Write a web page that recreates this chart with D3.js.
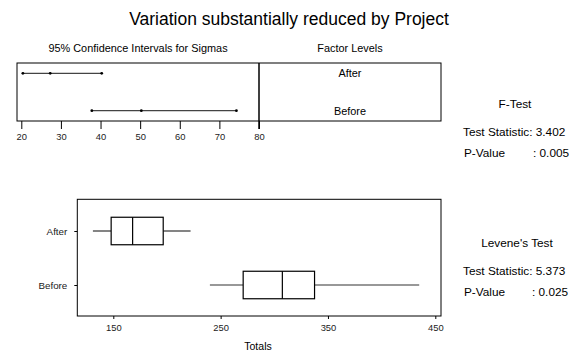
<!DOCTYPE html>
<html>
<head>
<meta charset="utf-8">
<script src="https://cdn.jsdelivr.net/npm/d3@7"></script>
<style>
  body { margin: 0; background: #fff; }
  svg { font-family: "Liberation Sans", Arial, sans-serif; }
</style>
</head>
<body>
<div id="chart"></div>
<script>
// two groups, compared before/after the project
const groups = ['After', 'Before'];

// 95% CI for sigma: lower, estimate, upper
const sigmaLow = [20.4, 37.8];
const sigmaEst = [27.3, 50.3];
const sigmaHigh = [40.3, 74.3];

const sigmaTicks = [20, 30, 40, 50, 60, 70, 80];

// boxplot stats: whisker low, q1, median, q3, whisker high
const whiskLow = [131, 240];
const q1 = [148, 271];
const median = [168, 307.5];
const q3 = [196.5, 337.5];
const whiskHigh = [222, 435];

const totalTicks = [150, 250, 350, 450];

const fTest = ['Test Statistic: 3.402', 'P-Value', ': 0.005'];
const leveneTest = ['Test Statistic: 5.373', 'P-Value', ': 0.025'];

const W = 570, H = 352;
const svg = d3.select('#chart').append('svg')
  .attr('width', W).attr('height', H);

const FONT = '"Liberation Sans", Arial, sans-serif';

svg.append('text')
  .attr('x', 289).attr('y', 25)
  .attr('text-anchor', 'middle')
  .attr('font-size', 17.5)
  .text('Variation substantially reduced by Project');

// ---- top panel: confidence intervals
const ciBox = { left: 17, right: 259, top: 63, bottom: 121 };
const xs = d3.scaleLinear().domain([20, 80]).range([21.3, 259]);
const ys = d3.scalePoint().domain(groups).range([73.3, 110.7]);

svg.append('text')
  .attr('x', 138).attr('y', 52)
  .attr('text-anchor', 'middle').attr('font-size', 10.9)
  .text('95% Confidence Intervals for Sigmas');
svg.append('text')
  .attr('x', 350).attr('y', 52)
  .attr('text-anchor', 'middle').attr('font-size', 10.9)
  .text('Factor Levels');

svg.append('rect')
  .attr('x', ciBox.left).attr('y', ciBox.top)
  .attr('width', 441 - ciBox.left).attr('height', ciBox.bottom - ciBox.top)
  .attr('fill', 'none').attr('stroke', '#000').attr('stroke-width', 1);
svg.append('line')
  .attr('x1', ciBox.right).attr('x2', ciBox.right)
  .attr('y1', ciBox.top).attr('y2', ciBox.bottom + 8)
  .attr('stroke', '#000').attr('stroke-width', 1.5);

svg.append('g')
  .attr('transform', `translate(0,${ciBox.bottom})`)
  .call(d3.axisBottom(xs).tickValues(sigmaTicks).tickSize(8).tickPadding(4))
  .call(g => g.select('.domain').remove())
  .call(g => g.selectAll('.tick line').attr('stroke', '#000'))
  .call(g => g.selectAll('.tick text').attr('font-size', 9.4).attr('fill', '#222')
    .attr('font-family', FONT));

const ci = svg.append('g');
groups.forEach((gname, i) => {
  const y = ys(gname);
  ci.append('line')
    .attr('x1', xs(sigmaLow[i])).attr('x2', xs(sigmaHigh[i]))
    .attr('y1', y).attr('y2', y)
    .attr('stroke', '#444').attr('stroke-width', 1.3);
  [sigmaLow[i], sigmaEst[i], sigmaHigh[i]].forEach(v => {
    ci.append('circle').attr('cx', xs(v)).attr('cy', y).attr('r', 1.4).attr('fill', '#000');
  });
  svg.append('text')
    .attr('x', 350).attr('y', y + 4)
    .attr('text-anchor', 'middle').attr('font-size', 10.9)
    .text(gname);
});

// F-test text
svg.append('text').attr('x', 515).attr('y', 108)
  .attr('text-anchor', 'middle').attr('font-size', 11.8).text('F-Test');
svg.append('text').attr('x', 463).attr('y', 136).attr('font-size', 11.8).text(fTest[0]);
svg.append('text').attr('x', 464).attr('y', 157).attr('font-size', 11.8).text(fTest[1]);
svg.append('text').attr('x', 533).attr('y', 157).attr('font-size', 11.8).text(fTest[2]);

// ---- bottom panel: boxplots
const bot = { left: 77.3, right: 441, top: 199.3, bottom: 316 };
const xb = d3.scaleLinear().domain([150, 450]).range([113.3, 435.3]);
const yb = d3.scalePoint().domain(groups).range([231, 285]);
const boxH = 27.5;

svg.append('rect')
  .attr('x', bot.left).attr('y', bot.top)
  .attr('width', bot.right - bot.left).attr('height', bot.bottom - bot.top)
  .attr('fill', 'none').attr('stroke', '#000').attr('stroke-width', 1);

svg.append('g')
  .attr('transform', `translate(0,${bot.bottom})`)
  .call(d3.axisBottom(xb).tickValues(totalTicks).tickSize(3).tickPadding(5))
  .call(g => g.select('.domain').remove())
  .call(g => g.selectAll('.tick line').attr('stroke', '#000'))
  .call(g => g.selectAll('.tick text').attr('font-size', 9.4).attr('fill', '#222')
    .attr('font-family', FONT));

svg.append('g')
  .attr('transform', `translate(${bot.left},0)`)
  .call(d3.axisLeft(yb).tickSize(3).tickPadding(7))
  .call(g => g.select('.domain').remove())
  .call(g => g.selectAll('.tick line').attr('stroke', '#000'))
  .call(g => g.selectAll('.tick text').attr('font-size', 9.8).attr('fill', '#222')
    .attr('font-family', FONT));

svg.append('text').attr('x', 258).attr('y', 350)
  .attr('text-anchor', 'middle').attr('font-size', 10.5).text('Totals');

const bx = svg.append('g');
groups.forEach((gname, i) => {
  const y = yb(gname);
  bx.append('line')
    .attr('x1', xb(whiskLow[i])).attr('x2', xb(q1[i]))
    .attr('y1', y).attr('y2', y).attr('stroke', '#333').attr('stroke-width', 1.2);
  bx.append('line')
    .attr('x1', xb(q3[i])).attr('x2', xb(whiskHigh[i]))
    .attr('y1', y).attr('y2', y).attr('stroke', '#333').attr('stroke-width', 1.2);
  bx.append('rect')
    .attr('x', xb(q1[i])).attr('y', y - boxH / 2)
    .attr('width', xb(q3[i]) - xb(q1[i])).attr('height', boxH)
    .attr('fill', '#fff').attr('stroke', '#000').attr('stroke-width', 1.2);
  bx.append('line')
    .attr('x1', xb(median[i])).attr('x2', xb(median[i]))
    .attr('y1', y - boxH / 2).attr('y2', y + boxH / 2)
    .attr('stroke', '#000').attr('stroke-width', 1.2);
});

// Levene text
svg.append('text').attr('x', 517).attr('y', 247)
  .attr('text-anchor', 'middle').attr('font-size', 11.8).text("Levene's Test");
svg.append('text').attr('x', 463).attr('y', 275).attr('font-size', 11.8).text(leveneTest[0]);
svg.append('text').attr('x', 464).attr('y', 296).attr('font-size', 11.8).text(leveneTest[1]);
svg.append('text').attr('x', 532).attr('y', 296).attr('font-size', 11.8).text(leveneTest[2]);
</script>
</body>
</html>
